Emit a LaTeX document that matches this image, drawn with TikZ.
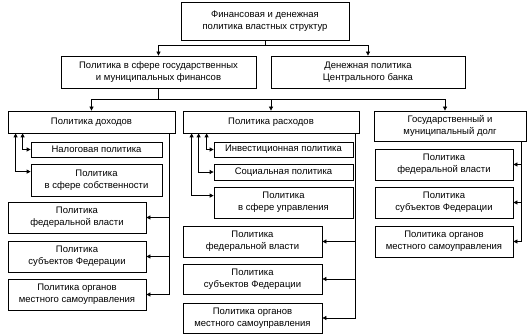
\documentclass[tikz,border=0pt]{standalone}
\usepackage{fontspec}
\setmainfont{Liberation Sans}
\usetikzlibrary{arrows.meta,calc}
\begin{document}
\begin{tikzpicture}[x=1pt,y=-1pt,
  box/.style={draw=black,line width=0.8pt,inner sep=0pt,align=center,
    font=\fontsize{9.5}{12.3}\selectfont},
  arr/.style={line width=0.8pt,-{Triangle[length=4pt,width=4pt]}},
  arrb/.style={line width=0.8pt,{Triangle[length=4pt,width=4pt]}-{Triangle[length=4pt,width=4pt]}},
  ln/.style={line width=0.8pt}]
\useasboundingbox (0,0) rectangle (530,336);
\newcommand\bx[6]{\node[box,minimum width=#4,minimum height=#5] (#1) at (#2,#3) {#6};}
\bx{top}{265}{21}{168}{38}{Финансовая и денежная\\политика властных структур}
\bx{fin}{158.5}{72}{195}{32}{Политика в сфере государственных\\и муниципальных финансов}
\bx{cb}{368}{72}{194}{32}{Денежная политика\\Центрального банка}
\bx{inc}{91.5}{122}{167}{22}{Политика доходов}
\bx{exp}{271}{122}{176}{22}{Политика расходов}
\bx{debt}{450}{126}{152}{30}{Государственный и\\муниципальный долг}
\bx{tax}{96.5}{149.5}{131}{15}{Налоговая политика}
\bx{prop}{96.5}{180}{131}{32}{Политика\\в сфере собственности}
\bx{incF}{77}{217.5}{138}{31}{Политика\\федеральной власти}
\bx{incS}{77}{256.5}{138}{31}{Политика\\субъектов Федерации}
\bx{incL}{77}{294.5}{138}{31}{Политика органов\\местного самоуправления}
\bx{inv}{283.5}{149.5}{139}{15}{Инвестиционная политика}
\bx{soc}{283.5}{172}{139}{16}{Социальная политика}
\bx{upr}{283.5}{202.5}{139}{31}{Политика\\в сфере управления}
\bx{expF}{252.5}{241.5}{139}{31}{Политика\\федеральной власти}
\bx{expS}{252.5}{279}{139}{30}{Политика\\субъектов Федерации}
\bx{expL}{252.5}{318}{139}{30}{Политика органов\\местного самоуправления}
\bx{debtF}{444}{164.5}{138}{31}{Политика\\федеральной власти}
\bx{debtS}{444}{202.5}{138}{31}{Политика\\субъектов Федерации}
\bx{debtL}{444}{241.5}{138}{31}{Политика органов\\местного самоуправления}
% level 1 -> 2
\draw[ln] (top.south) -- ++(0,5) coordinate (j1);
\draw[arr] (j1) -| (fin.north);
\draw[arr] (j1) -| (cb.north);
% level 2 -> 3
\draw[ln] (fin.south) -- ++(0,11) coordinate (j2);
\draw[arr] (j2) -| (inc.north);
\draw[arr] (j2) -| (exp.north);
\draw[arr] (j2) -| ([xshift=-5pt]debt.north);
% income side links
\draw[arrb] ([xshift=8pt]inc.south west) |- ([yshift=-8pt]prop.north west);
\draw[arrb] ([xshift=15pt]inc.south west) |- (tax.west);
\coordinate (incR) at ([xshift=-6pt]inc.south east);
\draw[arr] (incR) |- (incL.east);
\draw[arr] (incR |- incF.east) -- (incF.east);
\draw[arr] (incR |- incS.east) -- (incS.east);
% expense side links
\draw[arrb] ([xshift=9pt]exp.south west) |- ([yshift=-9pt]upr.north west);
\draw[arrb] ([xshift=16pt]exp.south west) |- (soc.west);
\draw[arrb] ([xshift=24pt]exp.south west) |- (inv.west);
\coordinate (expR) at ([xshift=-4pt]exp.south east);
\draw[arr] (expR) |- (expL.east);
\draw[arr] (expR |- expF.east) -- (expF.east);
\draw[arr] (expR |- expS.east) -- (expS.east);
% debt links
\coordinate (debtR) at ([xshift=-5pt]debt.south east);
\draw[arr] (debtR) |- (debtL.east);
\draw[arr] (debtR |- debtF.east) -- (debtF.east);
\draw[arr] (debtR |- debtS.east) -- (debtS.east);
\end{tikzpicture}
\end{document}
